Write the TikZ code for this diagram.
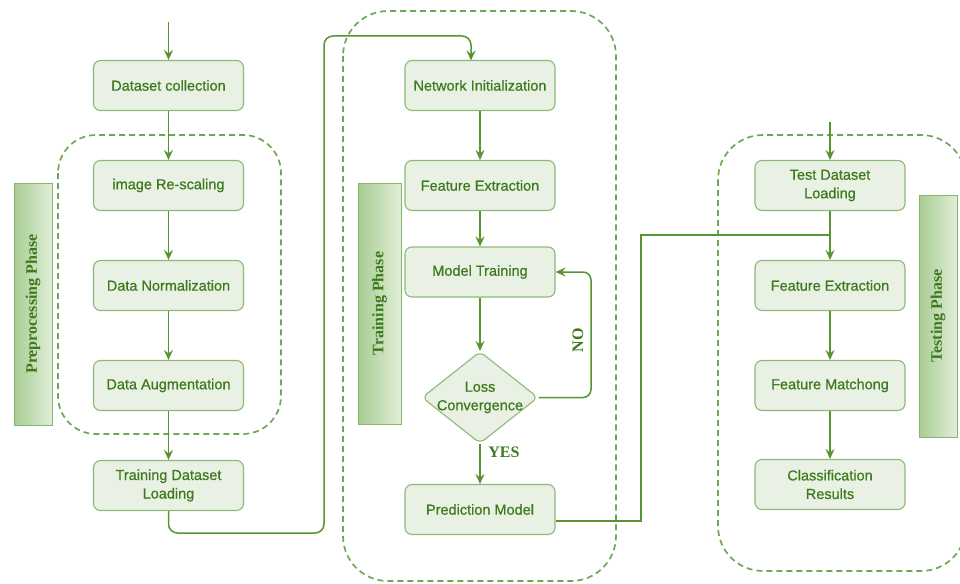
\documentclass[tikz,border=0pt]{standalone}
\usepackage{fontspec}
\setmainfont{Liberation Serif}
\setsansfont{Liberation Sans}
\newfontface\boxfont[FakeBold=0.6]{Liberation Sans}
\usetikzlibrary{arrows.meta,shapes.geometric,calc}
\definecolor{lgreen}{HTML}{56952F}
\definecolor{dgreen}{HTML}{6EA855}
\definecolor{bfill}{HTML}{E9F0E4}
\definecolor{bdraw}{HTML}{8DB978}
\definecolor{tgreen}{HTML}{3D7A1D}
\definecolor{pdark}{HTML}{A8CC92}
\definecolor{plight}{HTML}{E0EED8}
\definecolor{pdraw}{HTML}{86B56C}
\tikzset{
  stepbox/.style={draw=bdraw, fill=bfill, line width=1.1pt, rounded corners=7pt,
    minimum width=150pt, minimum height=50pt, inner sep=2pt, align=center,
    text=tgreen, font=\boxfont\fontsize{14.5}{18.5}\selectfont},
  decision/.style={diamond, draw=bdraw, fill=bfill, line width=1.1pt, rounded corners=6pt,
    minimum width=116pt, minimum height=92pt, inner sep=0pt},
  dtext/.style={align=center, text=tgreen, font=\boxfont\fontsize{14.5}{18.5}\selectfont},
  arr/.style={draw=lgreen, line width=1.5pt, -{Stealth[length=10pt,width=9pt,inset=3.5pt]}},
  conn/.style={draw=lgreen, line width=1.5pt},
  phasebox/.style={draw=dgreen, line width=1.7pt, dash pattern=on 6pt off 4pt},
  phaselabel/.style={draw=pdraw, line width=1pt, left color=pdark, right color=plight,
    rotate=90, inner sep=0pt, text=tgreen, font=\rmfamily\bfseries\fontsize{16}{18}\selectfont},
  answer/.style={text=tgreen, font=\rmfamily\bfseries\fontsize{16}{18}\selectfont, inner sep=0pt}
}
\begin{document}
\begin{tikzpicture}[x=1pt,y=-1pt]
\useasboundingbox (0,0) rectangle (960,583);
% dashed phase boxes
\draw[phasebox, rounded corners=38pt] (58,135) rectangle (281,434);
\draw[phasebox, rounded corners=45pt] (343,11) rectangle (616,581);
\draw[phasebox, rounded corners=45pt] (718,135) rectangle (966,571);
% phase labels
\node[phaselabel, minimum width=242pt, minimum height=38pt] (lpre) at (33,304) {Preprocessing Phase};
\node[phaselabel, minimum width=241pt, minimum height=43pt] (ltrain) at (379.5,303.5) {Training Phase};
\node[phaselabel, minimum width=242pt, minimum height=38pt] (ltest) at (938,316) {Testing Phase};
% left column
\node[stepbox] (dc) at (168.5,85.5) {Dataset collection};
\node[stepbox] (ir) at (168.5,185.5) {image Re-scaling};
\node[stepbox] (dn) at (168.5,285.5) {Data Normalization};
\node[stepbox] (da) at (168.5,385.5) {Data Augmentation};
\node[stepbox] (tdl) at (168.5,485.5) {Training Dataset\\Loading};
% middle column
\node[stepbox] (ni) at (480,85.5) {Network Initialization};
\node[stepbox] (fe) at (480,185.5) {Feature Extraction};
\node[stepbox] (mt) at (480,272) {Model Training};
\node[decision] (loss) at (480,397.5) {};
\node[dtext] (losst) at (loss) {Loss\\Convergence};
\node[stepbox] (pm) at (480,509.5) {Prediction Model};
% right column
\node[stepbox] (tsl) at (830,185.5) {Test Dataset\\Loading};
\node[stepbox] (fe2) at (830,285.5) {Feature Extraction};
\node[stepbox] (fm) at (830,385.5) {Feature Matchong};
\node[stepbox] (cr) at (830,484.5) {Classification\\Results};
% entry coordinates
\coordinate (in1) at (168.5,22);
\coordinate (in3) at (830,122);
\coordinate (j1) at (324,533);
\coordinate (j2) at (324,36);
\coordinate (j3) at (471,36);
\coordinate (nitop) at (471,60.5);
\coordinate (no1) at (591,397.5);
\coordinate (no2) at (591,272);
\coordinate (p1) at (641,521);
\coordinate (p2) at (641,235);
\coordinate (p3) at (830,235);
% arrows left
\draw[arr] (in1) -- (dc);
\draw[arr] (dc) -- (ir);
\draw[arr] (ir) -- (dn);
\draw[arr] (dn) -- (da);
\draw[arr] (da) -- (tdl);
\draw[arr, rounded corners=9pt] (tdl.south) |- (j1) -- (j2) -- (j3) -- (nitop);
% arrows middle
\draw[arr] (ni) -- (fe);
\draw[arr] (fe) -- (mt);
\draw[arr] (mt) -- (loss.north);
\draw[arr] (loss.south) -- (pm);
\draw[arr, rounded corners=8pt] (loss.east) -- (no1) -- (no2) -- (mt.east);
\node[answer] (yes) at (504,452) {YES};
\node[answer, rotate=90] (no) at (578,340) {NO};
% arrows right
\draw[conn] ($(pm.east)+(0,11.5)$) -- (p1) -- (p2) -- (p3);
\draw[arr] (in3) -- (tsl);
\draw[arr] (tsl) -- (fe2);
\draw[arr] (fe2) -- (fm);
\draw[arr] (fm) -- (cr);
\end{tikzpicture}
\end{document}
